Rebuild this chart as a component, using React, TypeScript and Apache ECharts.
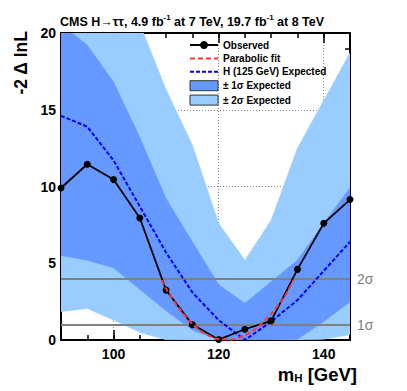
import React, { useEffect, useRef } from "react";
import * as echarts from "echarts";

// Higgs mass points (GeV)
const mass = [90, 95, 100, 105, 110, 115, 120, 125, 130, 135, 140, 145];
// Observed -2 Δ lnL
const observed = [9.9, 11.45, 10.45, 7.95, 3.25, 1.0, 0.03, 0.7, 1.25, 4.6, 7.6, 9.15];
// Expected for H(125)
const expected = [14.6, 13.9, 11.7, 8.7, 5.7, 3.1, 1.3, 0, 1.2, 2.6, 4.5, 6.4];
// Expected bands
const lower2 = [1.85, 2.05, 1.3, 0.5, 0.02, 0, 0, 0, 0, 0, 0.05, 0.35];
const lower1 = [5.5, 5.2, 4.7, 3.3, 1.9, 0.65, 0, 0, 0, 0.05, 1.2, 2.5];
const upper1 = [20.6, 19.2, 16.8, 13.2, 9.2, 6.4, 3.6, 2.4, 3.8, 5.2, 7.6, 9.9];
const upper2 = [28, 26, 23.5, 20.6, 16.3, 12.7, 7.6, 5.2, 7.8, 12.5, 15.6, 18.7];
// Parabolic fit
const fitMass = [109.2, 110, 112.5, 115, 117.5, 120, 122.5, 125, 127.5, 130, 132.5, 134.2];
const fitValues = [3.9, 3.35, 2.05, 1.05, 0.4, 0.06, 0.03, 0.3, 0.85, 1.7, 2.8, 3.9];
// Significance reference lines
const sigmaLevels = [1, 4];
const sigmaLabels = ["1σ", "2σ"];
// Axes
const xMajor = [100, 120, 140];

const FONT = '"Liberation Sans", Arial, Helvetica, sans-serif';
const C2 = "#99ccff";
const C1 = "#6699ff";

const pairs = (xs: number[], ys: number[]) => xs.map((x, i) => [x, ys[i]]);
// band segments: [x0, lo0, hi0, x1, lo1, hi1]
const segments = (lo: number[], hi: number[]) =>
  mass.slice(0, -1).map((m, i) => [m, lo[i], hi[i], mass[i + 1], lo[i + 1], hi[i + 1]]);

const bandRender = (color: string) => (params: any, api: any) => {
  const a = api.coord([api.value(0), api.value(1)]);
  const b = api.coord([api.value(3), api.value(4)]);
  const c = api.coord([api.value(3), api.value(5)]);
  const d = api.coord([api.value(0), api.value(2)]);
  return {
    type: "polygon",
    shape: { points: [a, b, c, d] },
    style: { fill: color, stroke: color, lineWidth: 0.6 },
  };
};

export default function App() {
  const ref = useRef<HTMLDivElement>(null);
  useEffect(() => {
    if (!ref.current) return;
    const chart = echarts.init(ref.current, undefined, { renderer: "svg" });
    const tickStyle = { color: "#000", width: 1.5 };
    const axisLine = { show: true, onZero: false, lineStyle: { color: "#000", width: 2 } };
    const dotted = { show: true, lineStyle: { color: "#888", type: [1, 2], width: 1 } };
    const xBase = { type: "value", min: 90, max: 145, splitLine: { show: false } };
    const yBase = { type: "value", min: 0, max: 20, interval: 5, splitLine: { show: false } };
    const option: any = {
      animation: false,
      backgroundColor: "#fff",
      textStyle: { fontFamily: FONT },
      title: {
        text: "{b|CMS H→ττ, 4.9 fb}{s|-1}{b| at 7 TeV, 19.7 fb}{s|-1}{b| at 8 TeV}",
        left: 60,
        top: 13,
        padding: 0,
        textStyle: {
          rich: {
            b: { fontSize: 12.5, fontWeight: "bold", color: "#000", fontFamily: FONT, lineHeight: 15, verticalAlign: "bottom" },
            s: { fontSize: 8, fontWeight: "bold", color: "#000", fontFamily: FONT, lineHeight: 8, verticalAlign: "top" },
          },
        },
      },
      grid: { left: 61, right: 57, top: 33, bottom: 51 },
      xAxis: [
        {
          ...xBase,
          interval: 5,
          position: "bottom",
          axisLine,
          axisTick: { show: true, inside: true, length: 5, lineStyle: tickStyle },
          axisLabel: {
            formatter: (v: number) => (v % 20 === 0 ? String(v) : ""),
            fontSize: 14,
            fontWeight: "bold",
            color: "#000",
            fontFamily: FONT,
            margin: 7,
          },
        },
        {
          ...xBase,
          interval: 5,
          position: "bottom",
          axisLine: { show: false, onZero: false },
          axisTick: { show: true, inside: true, length: 10, customValues: xMajor, lineStyle: tickStyle },
          axisLabel: { show: false },
          splitLine: dotted,
        },
        {
          ...xBase,
          interval: 5,
          position: "top",
          axisLine,
          axisTick: { show: true, inside: true, length: 5, lineStyle: tickStyle },
          axisLabel: { show: false },
        },
        {
          ...xBase,
          interval: 5,
          position: "top",
          axisLine: { show: false, onZero: false },
          axisTick: { show: true, inside: true, length: 10, customValues: xMajor, lineStyle: tickStyle },
          axisLabel: { show: false },
        },
      ],
      yAxis: [
        {
          ...yBase,
          position: "left",
          axisLine,
          axisTick: { show: true, inside: true, length: 10, lineStyle: tickStyle },
          minorTick: { show: true, splitNumber: 5, length: 5, lineStyle: tickStyle },
          axisLabel: { fontSize: 14, fontWeight: "bold", color: "#000", fontFamily: FONT, margin: 5 },
          splitLine: dotted,
        },
        {
          ...yBase,
          position: "right",
          axisLine,
          axisTick: { show: true, inside: true, length: 10, lineStyle: tickStyle },
          minorTick: { show: true, splitNumber: 5, length: 5, lineStyle: tickStyle },
          axisLabel: { show: false },
        },
      ],
      legend: {
        left: 189,
        top: 40,
        orient: "vertical",
        itemWidth: 28,
        itemHeight: 10,
        itemGap: 3.4,
        padding: 0,
        textStyle: { fontSize: 10, fontWeight: "bold", color: "#000", fontFamily: FONT, lineHeight: 10 },
        data: [
          { name: "Observed" },
          { name: "Parabolic fit", itemStyle: { opacity: 0 } },
          { name: "H (125 GeV) Expected", itemStyle: { opacity: 0 } },
          { name: "± 1σ Expected", icon: "rect", itemStyle: { color: C1, borderColor: "#333", borderWidth: 1 } },
          { name: "± 2σ Expected", icon: "rect", itemStyle: { color: C2, borderColor: "#333", borderWidth: 1 } },
        ],
      },
      graphic: [
        {
          type: "text",
          x: 21,
          y: 31,
          rotation: Math.PI / 2,
          style: {
            text: "-2 Δ lnL",
            font: `bold 17.5px ${FONT}`,
            fill: "#000",
            align: "right",
            verticalAlign: "middle",
          },
        },
        {
          type: "text",
          x: 357,
          y: 374,
          style: {
            text: "{m|m}{s|H}{m| [GeV]}",
            align: "right",
            verticalAlign: "middle",
            rich: {
              m: { fontSize: 18.5, fontWeight: "bold", fontFamily: FONT, fill: "#000", lineHeight: 20, verticalAlign: "bottom" },
              s: { fontSize: 11.5, fontWeight: "bold", fontFamily: FONT, fill: "#000", lineHeight: 10, verticalAlign: "bottom" },
            },
          },
        },
      ],
      series: [
        {
          type: "custom",
          name: "± 2σ Expected",
          coordinateSystem: "cartesian2d",
          clip: true,
          silent: true,
          itemStyle: { color: C2 },
          encode: { x: [0, 3], y: [1, 2, 4, 5] },
          data: segments(lower2, upper2),
          renderItem: bandRender(C2),
          z: 2,
        },
        {
          type: "custom",
          name: "± 1σ Expected",
          coordinateSystem: "cartesian2d",
          clip: true,
          silent: true,
          itemStyle: { color: C1 },
          encode: { x: [0, 3], y: [1, 2, 4, 5] },
          data: segments(lower1, upper1),
          renderItem: bandRender(C1),
          z: 2,
        },
        {
          type: "line",
          name: "sigmaLines",
          data: [],
          silent: true,
          z: 3,
          markLine: {
            z: 3,
            silent: true,
            symbol: ["none", "none"],
            lineStyle: { color: "#808080", width: 2, type: "solid" },
            label: { show: true, position: "end", distance: 7, color: "#808080", fontSize: 14, fontFamily: FONT },
            data: sigmaLevels.map((v, i) => ({ yAxis: v, label: { formatter: sigmaLabels[i] } })),
          },
        },
        {
          type: "line",
          name: "H (125 GeV) Expected",
          data: pairs(mass, expected),
          color: "#0000ff",
          symbol: "none",
          lineStyle: { color: "#0000ff", width: 2, type: [4, 2] },
          z: 4,
        },
        {
          type: "line",
          name: "Observed",
          data: pairs(mass, observed),
          color: "#000",
          symbol: "circle",
          symbolSize: 7,
          itemStyle: { color: "#000" },
          lineStyle: { color: "#000", width: 1.8 },
          z: 5,
        },
        {
          type: "line",
          name: "Parabolic fit",
          data: pairs(fitMass, fitValues),
          color: "#ff3333",
          symbol: "none",
          smooth: 0.3,
          lineStyle: { color: "#ff3333", width: 2, type: [5, 3] },
          z: 6,
        },
      ],
    };
    chart.setOption(option);
    return () => chart.dispose();
  }, []);
  return (
    <div
      ref={ref}
      style={{ position: "fixed", left: 0, top: 0, width: 407, height: 391, background: "#fff" }}
    />
  );
}
